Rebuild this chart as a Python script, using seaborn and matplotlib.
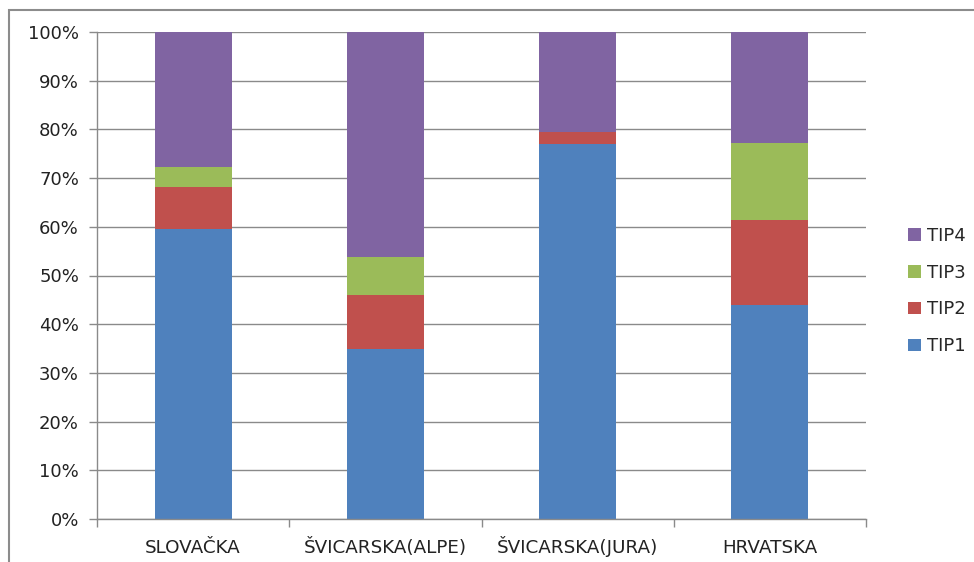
import numpy as np
import pandas as pd
import matplotlib
matplotlib.use("Agg")
import matplotlib.pyplot as plt
from matplotlib.patches import Patch, Rectangle
import seaborn as sns

# podaci (udjeli u %)
categories = ["SLOVAČKA", "ŠVICARSKA(ALPE)", "ŠVICARSKA(JURA)", "HRVATSKA"]
tip1 = [59.5, 35.0, 77.0, 44.0]
tip2 = [8.6, 11.0, 2.4, 17.3]
tip3 = [4.2, 7.8, 0.0, 15.9]
tip4 = [27.7, 46.2, 20.6, 22.8]
series_names = ["TIP1", "TIP2", "TIP3", "TIP4"]
colors = ["#4F81BD", "#C0504D", "#9BBB59", "#8064A2"]

sns.set_theme(style="white")
plt.rcParams["font.family"] = ["DejaVu Sans"]

df = pd.DataFrame({"kat": categories, "TIP1": tip1, "TIP2": tip2,
                   "TIP3": tip3, "TIP4": tip4})
# kumulativne sume za slaganje
cum = df[series_names].cumsum(axis=1)
cum = cum.div(cum["TIP4"], axis=0) * 100

fig = plt.figure(figsize=(9.74, 5.62), dpi=100)
ax = fig.add_axes([97 / 974, 1 - 519 / 562, (866 - 97) / 974, (519 - 32) / 562])

grid_c = "#8a8a8a"
ax.set_axisbelow(True)
ax.yaxis.grid(True, color=grid_c, linewidth=1)

# crtamo od vrha prema dnu da se preklope
for name, col in zip(reversed(series_names), reversed(colors)):
    sns.barplot(x=df["kat"], y=cum[name], color=col, width=0.4,
                saturation=1, ax=ax, edgecolor="none")

ax.set_ylim(0, 100)
ax.set_xlim(-0.5, 3.5)
ax.set_yticks(np.arange(0, 101, 10))
ax.set_yticklabels([f"{v}%" for v in range(0, 101, 10)])
ax.set_xticks(np.arange(-0.5, 3.6, 1))
ax.set_xticklabels([])
ax.set_xticks(np.arange(4), minor=True)
ax.set_xticklabels(categories, minor=True)
ax.tick_params(axis="x", which="minor", length=0, pad=24.5, labelsize=13.2,
               colors="#222222")
for lbl in ax.get_xticklabels(minor=True):
    lbl.set_verticalalignment("baseline")
ax.tick_params(axis="x", which="major", length=6, width=1, color=grid_c,
               direction="out", bottom=True)
ax.tick_params(axis="y", length=6, width=1, color=grid_c, direction="out",
               left=True, labelsize=13, labelcolor="#222222", pad=7)
ax.set_xlabel("")
ax.set_ylabel("")
for s in ["top", "right"]:
    ax.spines[s].set_visible(False)
for s in ["left", "bottom"]:
    ax.spines[s].set_color(grid_c)
    ax.spines[s].set_linewidth(1)

handles = [Patch(facecolor=c, edgecolor="none", label=n)
           for n, c in zip(reversed(series_names), reversed(colors))]
fig.legend(handles=handles, loc="center left",
           bbox_to_anchor=(901 / 974, 1 - 291 / 562), frameon=False,
           fontsize=13, handlelength=0.7, handleheight=0.7,
           handletextpad=0.35, labelspacing=1.05, borderaxespad=0)

# okvir grafikona
fig.patches.append(Rectangle((9 / 974, -0.1), 1.2, 1 - 10 / 562 + 0.1,
                             transform=fig.transFigure, fill=False,
                             edgecolor="#8c8c8c", linewidth=1.5))

fig.savefig("out.png", dpi=100)
